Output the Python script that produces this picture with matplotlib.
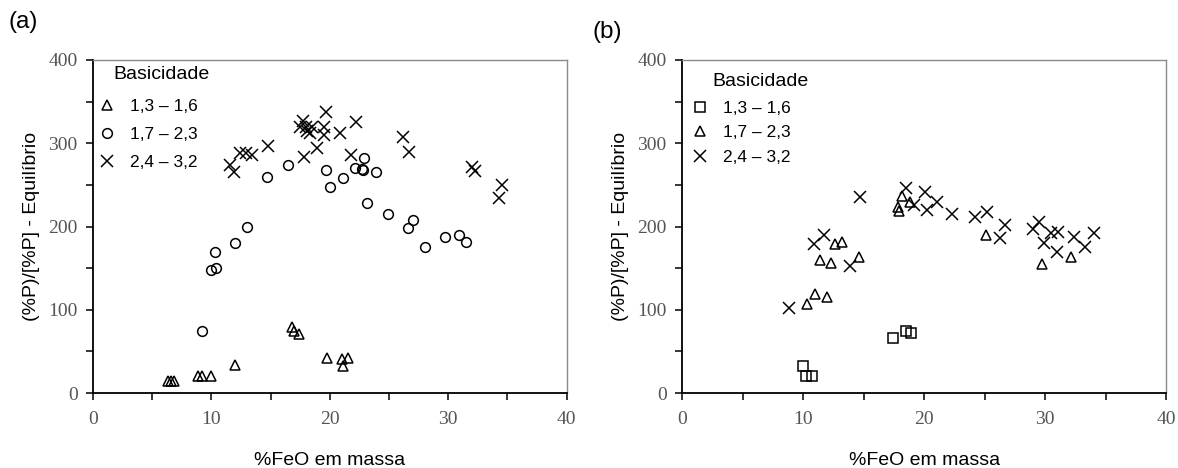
import matplotlib
matplotlib.use("Agg")
import matplotlib.pyplot as plt
from matplotlib.ticker import MultipleLocator

# Panel (a): basicity groups
a_low_x = [6.3, 6.6, 6.8, 8.9, 9.2, 10.0, 12.0, 16.8, 17.0, 17.4, 19.8, 21.0, 21.5, 21.1]
a_low_y = [15, 15, 15, 20, 20, 20, 34, 79, 75, 71, 42, 41, 42, 33]

a_mid_x = [9.2, 10.0, 10.4, 10.3, 12.0, 13.0, 14.7, 16.5, 19.7, 20.0, 21.1, 22.1,
           22.7, 22.8, 22.9, 23.9, 23.1, 24.9, 26.6, 27.0, 28.0, 29.7, 30.9, 31.5]
a_mid_y = [75, 148, 150, 170, 180, 200, 260, 274, 268, 248, 258, 270,
           269, 268, 282, 265, 228, 215, 198, 208, 176, 188, 190, 182]

a_high_x = [11.6, 11.9, 12.4, 12.9, 13.4, 14.8, 17.8, 17.5, 17.7, 18.0, 18.3, 18.5,
            18.1, 18.9, 19.5, 19.5, 19.7, 20.9, 22.2, 21.8, 26.2, 26.7, 32.0, 32.3,
            34.5, 34.3]
a_high_y = [274, 265, 288, 288, 286, 297, 283, 319, 327, 319, 312, 320,
            315, 294, 310, 320, 338, 312, 325, 286, 307, 290, 272, 267,
            250, 234]

# Panel (b): basicity groups
b_low_x = [10.0, 10.2, 10.7, 17.4, 18.5, 18.9]
b_low_y = [32, 21, 21, 66, 74, 72]

b_mid_x = [10.3, 11.0, 12.0, 11.4, 12.3, 12.6, 13.2, 14.6, 17.8, 17.9, 18.2, 18.8,
           25.1, 29.7, 32.1]
b_mid_y = [107, 119, 115, 160, 156, 179, 182, 164, 224, 219, 237, 230,
           190, 155, 164]

b_high_x = [8.8, 10.9, 11.7, 13.9, 14.7, 18.5, 19.2, 20.1, 20.2, 21.1, 22.3, 24.2,
            25.2, 26.3, 26.7, 29.0, 29.5, 29.9, 30.5, 31.1, 31.0, 32.4, 33.3, 34.0]
b_high_y = [102, 179, 190, 152, 235, 246, 226, 242, 220, 230, 215, 212,
            218, 186, 202, 197, 206, 180, 192, 193, 169, 187, 175, 192]

labels = ["1,3 \u2013 1,6", "1,7 \u2013 2,3", "2,4 \u2013 3,2"]

fig = plt.figure(figsize=(11.78, 4.68), dpi=100)
ax_a = fig.add_axes([0.079, 0.160, 0.402, 0.712])
ax_b = fig.add_axes([0.579, 0.160, 0.411, 0.712])

mk = dict(linestyle="none", markerfacecolor="none", markeredgecolor="black",
          markeredgewidth=1.1, color="black")
SANS = "Liberation Sans"


def style_axes(ax):
    ax.set_xlim(0, 40)
    ax.set_ylim(0, 400)
    ax.xaxis.set_major_locator(MultipleLocator(10))
    ax.xaxis.set_minor_locator(MultipleLocator(5))
    ax.yaxis.set_major_locator(MultipleLocator(100))
    ax.yaxis.set_minor_locator(MultipleLocator(50))
    ax.tick_params(which="both", direction="out", length=5, width=1.1,
                   colors="black", labelcolor="#555555", labelsize=14)
    ax.tick_params(axis="x", pad=8)
    ax.tick_params(axis="y", pad=6)
    for lab in ax.get_xticklabels() + ax.get_yticklabels():
        lab.set_family("Liberation Serif")
    for side in ("left", "bottom"):
        ax.spines[side].set_color("black")
        ax.spines[side].set_linewidth(1.3)
    for side in ("top", "right"):
        ax.spines[side].set_color("#8a8a8a")
        ax.spines[side].set_linewidth(1.0)
    ax.set_xlabel("%FeO em massa", fontsize=14, family=SANS, labelpad=17)
    ax.set_ylabel("(%P)/[%P] - Equil\u00edbrio", fontsize=14, family=SANS,
                  labelpad=6)


def add_legend(ax, title_xy, anchor, spacing):
    ax.text(title_xy[0], title_xy[1], "Basicidade", transform=ax.transAxes,
            fontsize=14, family=SANS, ha="left", va="center")
    ax.legend(loc="upper left", bbox_to_anchor=anchor, frameon=False,
              prop={"family": SANS, "size": 12.5}, handletextpad=0.8,
              labelspacing=spacing, borderaxespad=0, borderpad=0,
              handlelength=1.0)


ax_a.plot(a_low_x, a_low_y, marker="^", markersize=7, label=labels[0], **mk)
ax_a.plot(a_mid_x, a_mid_y, marker="o", markersize=7, label=labels[1], **mk)
ax_a.plot(a_high_x, a_high_y, marker="x", markersize=8, label=labels[2], **mk)
style_axes(ax_a)
add_legend(ax_a, (0.042, 0.955), (0.011, 0.883), 0.73)

ax_b.plot(b_low_x, b_low_y, marker="s", markersize=7, label=labels[0], **mk)
ax_b.plot(b_mid_x, b_mid_y, marker="^", markersize=7, label=labels[1], **mk)
ax_b.plot(b_high_x, b_high_y, marker="x", markersize=8, label=labels[2], **mk)
style_axes(ax_b)
add_legend(ax_b, (0.062, 0.934), (0.019, 0.877), 0.53)

fig.text(0.007, 0.953, "(a)", fontsize=17.5, family=SANS, va="center")
fig.text(0.503, 0.932, "(b)", fontsize=17.5, family=SANS, va="center")

fig.savefig("out.png", dpi=100)
